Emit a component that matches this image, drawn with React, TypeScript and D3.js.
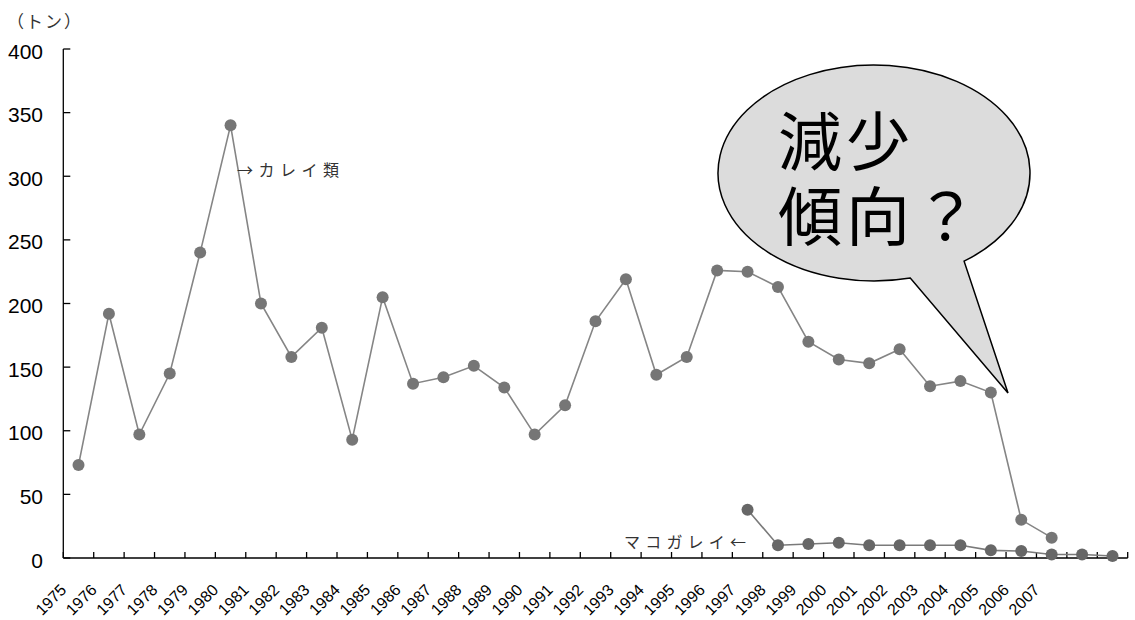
import React from 'react';
import * as d3 from 'd3';

const years = [
  '1975','1976','1977','1978','1979','1980','1981','1982','1983','1984',
  '1985','1986','1987','1988','1989','1990','1991','1992','1993','1994',
  '1995','1996','1997','1998','1999','2000','2001','2002','2003','2004',
  '2005','2006','2007','2008','2009',
];
const tickLabels = [
  '1975','1976','1977','1978','1979','1980','1981','1982','1983','1984',
  '1985','1986','1987','1988','1989','1990','1991','1992','1993','1994',
  '1995','1996','1997','1998','1999','2000','2001','2002','2003','2004',
  '2005','2006','2007',
];
const kareiYears = tickLabels;
const kareiValues = [
  73, 192, 97, 145, 240, 340, 200, 158, 181, 93,
  205, 137, 142, 151, 134, 97, 120, 186, 219, 144,
  158, 226, 225, 213, 170, 156, 153, 164, 135, 139,
  130, 30, 16,
];
const makoYears = ['1997','1998','1999','2000','2001','2002','2003','2004','2005','2006','2007','2008','2009'];
const makoValues = [38, 10, 11, 12, 10, 10, 10, 10, 6, 5.5, 2.8, 2.8, 1.6];
const yTicks = [0, 50, 100, 150, 200, 250, 300, 350, 400];

const W = 1135, H = 620;
const x0 = 63.3, x1 = 1127.7, yBase = 558, yTop = 49;

export default function App() {
  const x = d3.scaleBand<string>().domain(years).range([x0, x1]).padding(0);
  const y = d3.scaleLinear().domain([0, 400]).range([yBase, yTop]);
  const cx = (yr: string) => (x(yr) as number) + x.bandwidth() / 2;
  const line = d3.line<[string, number]>().x(d => cx(d[0])).y(d => y(d[1]));
  const kareiData: [string, number][] = kareiYears.map((yr, i) => [yr, kareiValues[i]]);
  const makoData: [string, number][] = makoYears.map((yr, i) => [yr, makoValues[i]]);
  const boundaries = [...years.map(yr => x(yr) as number), x1];

  const jp = '"Noto Sans CJK JP", sans-serif';
  const sans = '"Liberation Sans", Arial, sans-serif';

  // speech bubble
  const ecx = 874, ecy = 173, erx = 156, ery = 108;
  const tailL = [912, 283], tailR = [968, 265], tip = [1008, 393];
  const angOf = (p: number[]) => Math.atan2((p[1] - ecy) / ery, (p[0] - ecx) / erx);
  const aL = angOf(tailL), aR = angOf(tailR);
  const pL = [ecx + erx * Math.cos(aL), ecy + ery * Math.sin(aL)];
  const pR = [ecx + erx * Math.cos(aR), ecy + ery * Math.sin(aR)];
  const bubblePath = `M${pR[0]},${pR[1]} A${erx},${ery} 0 1 0 ${pL[0]},${pL[1]} L${tip[0]},${tip[1]} Z`;

  return (
    <svg width={W} height={H} style={{ position: 'absolute', left: 0, top: 0, background: '#fff' }}>
      {/* unit label */}
      <text x={7} y={28} fontFamily={jp} fontSize={17} fill="#333" letterSpacing={2}>（トン）</text>

      {/* y axis */}
      <line x1={x0} y1={yTop} x2={x0} y2={yBase} stroke="#000" strokeWidth={1.3} />
      {yTicks.map(t => (
        <g key={t}>
          <line x1={x0} x2={x0 + 7} y1={y(t)} y2={y(t)} stroke="#000" strokeWidth={1.3} />
          <text x={43} y={y(t) + 9.5} textAnchor="end" fontFamily={sans} fontSize={21} fill="#000">{t}</text>
        </g>
      ))}

      {/* x axis */}
      <line x1={x0} y1={yBase} x2={x1} y2={yBase} stroke="#000" strokeWidth={1.3} />
      {boundaries.map((bx, i) => (
        <line key={i} x1={bx} x2={bx} y1={yBase} y2={yBase - 6} stroke="#000" strokeWidth={1.3} />
      ))}
      {tickLabels.map(lbl => {
        const ax = (x(lbl) as number) + 4;
        const ay = 591;
        return (
          <g key={lbl} transform={`translate(${ax},${ay}) rotate(-45)`}>
            <text x={0} y={0} textAnchor="end" fontFamily={sans} fontSize={16} fill="#000">{lbl}</text>
          </g>
        );
      })}

      {/* series */}
      <path d={line(kareiData) || ''} fill="none" stroke="#858585" strokeWidth={1.6} />
      {kareiData.map(d => (
        <circle key={'k' + d[0]} cx={cx(d[0])} cy={y(d[1])} r={6} fill="#767676" />
      ))}
      <path d={line(makoData) || ''} fill="none" stroke="#7a7a7a" strokeWidth={1.6} />
      {makoData.map(d => (
        <circle key={'m' + d[0]} cx={cx(d[0])} cy={y(d[1])} r={6} fill="#676767" />
      ))}

      {/* annotations */}
      <text x={237} y={176} fontFamily={jp} fontSize={16} fill="#333" letterSpacing={5.5}>→カレイ類</text>
      <text x={624} y={548} fontFamily={jp} fontSize={16} fill="#333" letterSpacing={5.2}>マコガレイ←</text>

      {/* speech bubble */}
      <path d={bubblePath} fill="#dcdcdc" stroke="#000" strokeWidth={1.5} />
      <text fontFamily={jp} fontSize={64} fill="#000" letterSpacing={4}>
        <tspan x={778} y={165}>減少</tspan>
        <tspan x={778} y={240}>傾向？</tspan>
      </text>
    </svg>
  );
}
